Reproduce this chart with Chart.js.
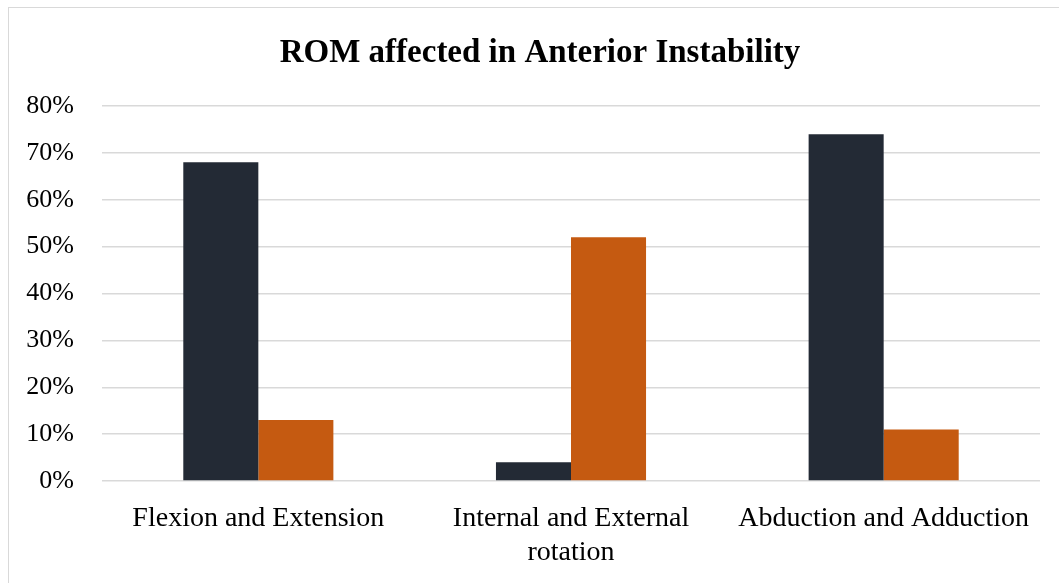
<!DOCTYPE html>
<html>
<head>
<meta charset="utf-8">
<script src="https://cdn.jsdelivr.net/npm/chart.js@4.4.0/dist/chart.umd.min.js"></script>
<style>
  html, body { margin: 0; padding: 0; background: #fff; }
  #wrap { position: relative; width: 1059px; height: 583px; overflow: hidden; }
  #frame { position: absolute; left: 8px; top: 7px; width: 1100px; height: 650px; border: 1.5px solid #d9d9d9; box-sizing: border-box; }
  canvas { position: absolute; left: 0; top: 0; }
</style>
</head>
<body>
<div id="wrap">
  <div id="frame"></div>
  <canvas id="c" width="1059" height="583"></canvas>
</div>
<script>
const categories = [['Flexion and Extension'], ['Internal and External', 'rotation'], ['Abduction and Adduction']];
const seriesA = [68, 4, 74];
const seriesB = [13, 52, 11];
const yTicks = [0, 10, 20, 30, 40, 50, 60, 70, 80];
const titleText = 'ROM affected in Anterior Instability';

const FONT = "'Liberation Serif', 'DejaVu Serif', serif";

// shift title block so it centres at the same x as the reference
const titleShift = {
  id: 'titleShift',
  afterLayout(chart) {
    if (chart.titleBlock) { chart.titleBlock.left = 40; }
  }
};

new Chart(document.getElementById('c'), {
  type: 'bar',
  data: {
    labels: categories,
    datasets: [
      { label: 'A', data: seriesA, backgroundColor: '#232a35', categoryPercentage: 0.48, barPercentage: 1.0 },
      { label: 'B', data: seriesB, backgroundColor: '#c55a11', categoryPercentage: 0.48, barPercentage: 1.0 }
    ]
  },
  plugins: [titleShift],
  options: {
    responsive: false,
    animation: false,
    devicePixelRatio: 1,
    layout: { padding: { left: 0, right: 19, top: 0, bottom: 0 } },
    plugins: {
      legend: { display: false },
      tooltip: { enabled: false },
      title: {
        display: true,
        text: titleText,
        color: '#000',
        font: { family: FONT, size: 33, weight: 'bold', lineHeight: 1.2 },
        padding: { top: 34, bottom: 32.4 }
      }
    },
    scales: {
      y: {
        min: 0, max: 80,
        afterBuildTicks: (s) => { s.ticks = yTicks.map(v => ({ value: v })); },
        afterFit: (s) => { s.width = 102; },
        border: { display: false },
        grid: { color: '#d9d9d9', lineWidth: 1.5, drawTicks: false },
        ticks: {
          padding: 28,
          color: '#000',
          font: { family: FONT, size: 26 },
          callback: (v) => v + '%'
        }
      },
      x: {
        afterFit: (s) => { s.height = 102; },
        border: { display: false },
        grid: { display: false, drawTicks: false },
        ticks: {
          padding: 21,
          color: '#000',
          maxRotation: 0,
          autoSkip: false,
          font: { family: FONT, size: 28, lineHeight: 1.214 }
        }
      }
    }
  }
});
</script>
</body>
</html>
